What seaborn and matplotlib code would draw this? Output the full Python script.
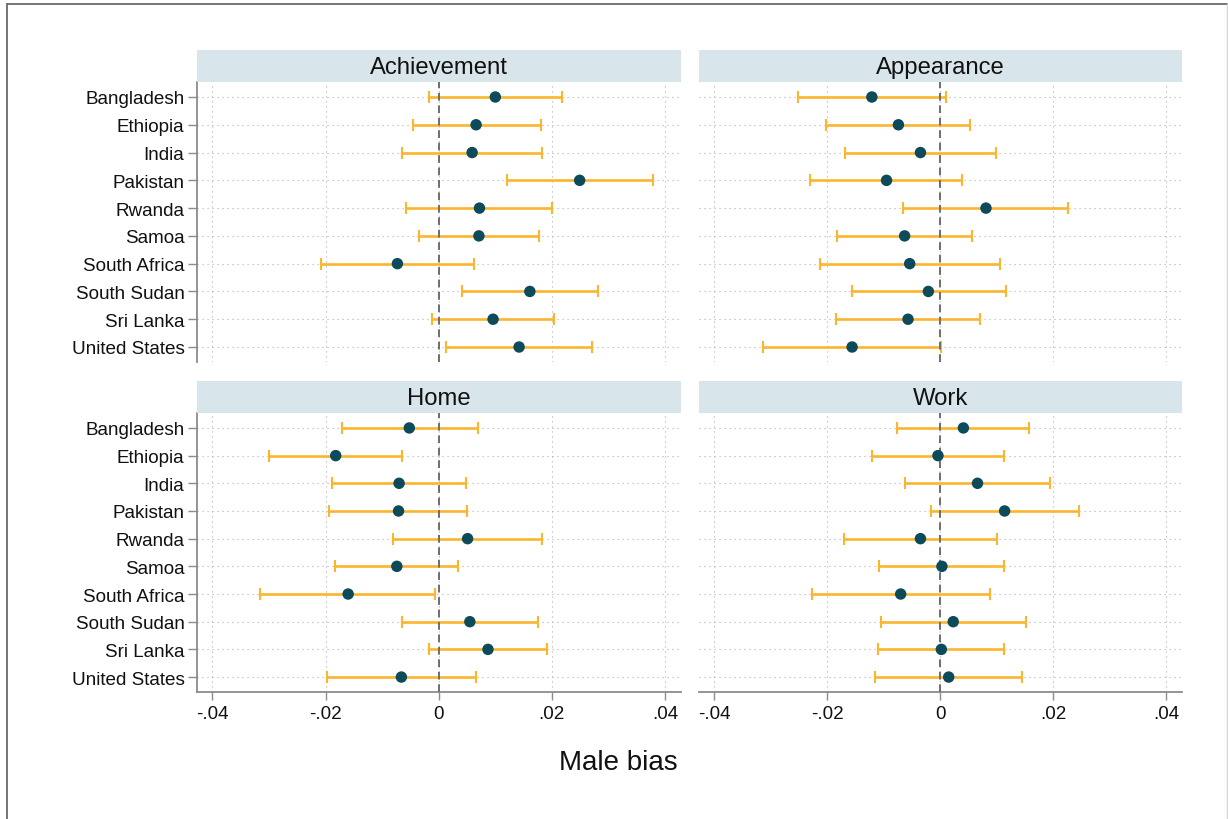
import numpy as np
import pandas as pd
import matplotlib
matplotlib.use("Agg")
import matplotlib.pyplot as plt
from matplotlib.lines import Line2D
import seaborn as sns

countries = ["Bangladesh", "Ethiopia", "India", "Pakistan", "Rwanda", "Samoa",
             "South Africa", "South Sudan", "Sri Lanka", "United States"]
domains = ["Achievement", "Appearance", "Home", "Work"]

# point estimates and 95% interval bounds, per domain
achievement_est = [0.0100, 0.0066, 0.0059, 0.0249, 0.0072, 0.0071, -0.0073, 0.0161, 0.0096, 0.0142]
achievement_lo = [-0.0017, -0.0046, -0.0065, 0.0120, -0.0057, -0.0035, -0.0208, 0.0041, -0.0011, 0.0013]
achievement_hi = [0.0218, 0.0180, 0.0182, 0.0378, 0.0201, 0.0178, 0.0063, 0.0281, 0.0204, 0.0271]

appearance_est = [-0.0121, -0.0074, -0.0035, -0.0095, 0.0081, -0.0063, -0.0054, -0.0021, -0.0057, -0.0156]
appearance_lo = [-0.0252, -0.0202, -0.0169, -0.0230, -0.0065, -0.0183, -0.0213, -0.0157, -0.0184, -0.0313]
appearance_hi = [0.0011, 0.0053, 0.0099, 0.0038, 0.0227, 0.0057, 0.0105, 0.0117, 0.0071, 0.0001]

home_est = [-0.0052, -0.0182, -0.0070, -0.0071, 0.0051, -0.0074, -0.0160, 0.0055, 0.0087, -0.0066]
home_lo = [-0.0171, -0.0299, -0.0188, -0.0193, -0.0081, -0.0183, -0.0315, -0.0065, -0.0017, -0.0198]
home_hi = [0.0069, -0.0065, 0.0049, 0.0050, 0.0182, 0.0034, -0.0006, 0.0175, 0.0191, 0.0066]

work_est = [0.0041, -0.0004, 0.0066, 0.0114, -0.0035, 0.0003, -0.0070, 0.0023, 0.0002, 0.0015]
work_lo = [-0.0076, -0.0120, -0.0063, -0.0016, -0.0170, -0.0108, -0.0227, -0.0104, -0.0111, -0.0115]
work_hi = [0.0158, 0.0113, 0.0194, 0.0245, 0.0101, 0.0113, 0.0089, 0.0151, 0.0113, 0.0144]

x_ticks = [-0.04, -0.02, 0.0, 0.02, 0.04]
x_tick_labels = ["-.04", "-.02", "0", ".02", ".04"]

frames = []
for name, est, lo, hi in [
    ("Achievement", achievement_est, achievement_lo, achievement_hi),
    ("Appearance", appearance_est, appearance_lo, appearance_hi),
    ("Home", home_est, home_lo, home_hi),
    ("Work", work_est, work_lo, work_hi),
]:
    frames.append(pd.DataFrame({"domain": name, "country": countries,
                                "pos": np.arange(len(countries)),
                                "est": est, "lo": lo, "hi": hi}))
df = pd.concat(frames, ignore_index=True)

sns.set_theme(style="white")
plt.rcParams["font.family"] = ["Liberation Sans", "DejaVu Sans"]

W, H = 1228, 820
fig = plt.figure(figsize=(W / 100, H / 100), dpi=100)

def frac(l, t, r, b):
    return [l / W, 1 - b / H, (r - l) / W, (b - t) / H]

point_color = "#0d4a5a"
bar_color = "#fbb52e"
strip_color = "#d8e5eb"
axis_gray = "#8c8c8c"

layout = {
    "Achievement": (197, 83, 681, 363, True, False),
    "Appearance": (699, 83, 1182, 363, False, False),
    "Home": (197, 414, 681, 693, True, True),
    "Work": (699, 414, 1182, 693, False, True),
}

for name in domains:
    l, t, r, b, show_y, show_x = layout[name]
    ax = fig.add_axes(frac(l, t, r, b))
    sub = df[df["domain"] == name]

    ax.errorbar(sub["est"], sub["pos"],
                xerr=[sub["est"] - sub["lo"], sub["hi"] - sub["est"]],
                fmt="none", ecolor=bar_color, elinewidth=1.9,
                capsize=4.0, capthick=1.5, zorder=2)
    ax.axvline(0, color="#6e6e6e", linestyle=(0, (4.0, 2.4)), linewidth=1.4, zorder=3)
    sns.scatterplot(data=sub, x="est", y="pos", ax=ax, color=point_color,
                    s=68, edgecolor="none", linewidth=0, zorder=4, legend=False)

    ax.set_xlim(-0.0427, 0.0428)
    ax.set_ylim(9.54, -0.54)
    ax.set_xticks(x_ticks)
    ax.set_yticks(np.arange(len(countries)))
    ax.grid(True, linestyle=(0, (1, 3.5)), color="#b0b0b0", linewidth=0.8, zorder=0)
    ax.set_axisbelow(True)
    ax.set_xlabel("")
    ax.set_ylabel("")

    for side in ["top", "right"]:
        ax.spines[side].set_visible(False)
    ax.spines["left"].set_visible(show_y)
    ax.spines["bottom"].set_visible(show_x)
    for side in ["left", "bottom"]:
        ax.spines[side].set_color(axis_gray)
        ax.spines[side].set_linewidth(1.3)

    if show_y:
        ax.set_yticklabels(countries)
        ax.tick_params(axis="y", left=True, length=6.5, width=1.0, color=axis_gray,
                       labelsize=13.6, pad=2.5, labelcolor="#111111")
    else:
        ax.tick_params(axis="y", left=False, labelleft=False)
    if show_x:
        ax.set_xticklabels(x_tick_labels)
        ax.tick_params(axis="x", bottom=True, length=6, width=1.0, color=axis_gray,
                       labelsize=13.6, pad=3.5, labelcolor="#111111")
    else:
        ax.tick_params(axis="x", bottom=False, labelbottom=False)

    strip = fig.add_axes(frac(l, t - 32, r, t))
    strip.set_facecolor(strip_color)
    strip.set_xticks([])
    strip.set_yticks([])
    for s in strip.spines.values():
        s.set_visible(False)
    strip.text(0.5, 0.47, name, ha="center", va="center", fontsize=17.2,
               color="#111111", transform=strip.transAxes)

fig.text(618 / W, 1 - 763 / H, "Male bias", ha="center", va="center",
         fontsize=20, color="#111111")

# outer frame
fig.add_artist(Line2D([7 / W, 7 / W], [0, 1 - 5 / H], transform=fig.transFigure,
                      color="#6a6a6a", linewidth=1.3))
fig.add_artist(Line2D([7 / W, 1227 / W], [1 - 5 / H, 1 - 5 / H], transform=fig.transFigure,
                      color="#6a6a6a", linewidth=1.3))
fig.add_artist(Line2D([1227 / W, 1227 / W], [0, 1 - 5 / H], transform=fig.transFigure,
                      color="#d6d6d6", linewidth=1.0))

fig.savefig("out.png", dpi=100)
